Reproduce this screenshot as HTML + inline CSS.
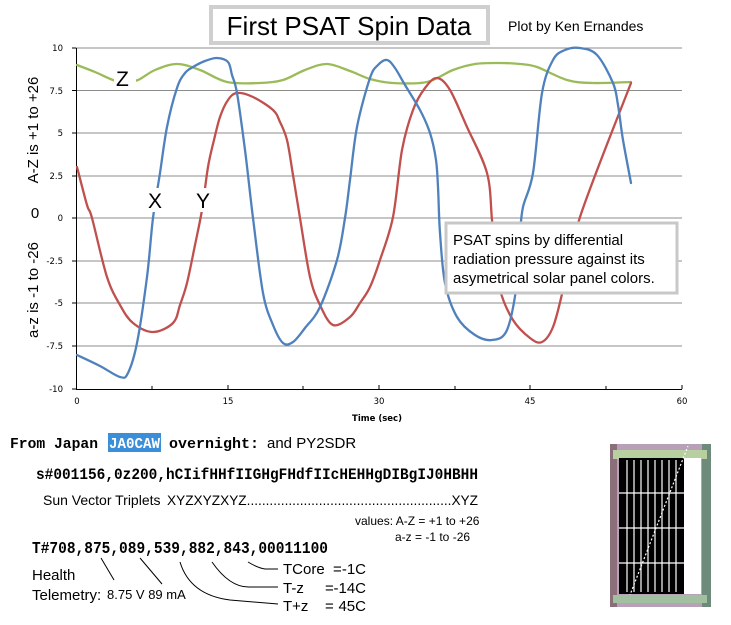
<!DOCTYPE html>
<html><head><meta charset="utf-8"><style>
html,body{margin:0;padding:0;background:#fff;}
svg{display:block;}
</style></head><body>
<svg id="s" width="731" height="625" viewBox="0 0 731 625" xmlns="http://www.w3.org/2000/svg" font-family="Liberation Sans, Arial, sans-serif">
<rect width="731" height="625" fill="#fff"/>
<g stroke="#8c8c8c" stroke-width="1">
<line x1="76" y1="48" x2="682" y2="48"/>
<line x1="76" y1="90.5" x2="682" y2="90.5"/>
<line x1="76" y1="133" x2="682" y2="133"/>
<line x1="76" y1="176" x2="682" y2="176"/>
<line x1="76" y1="218" x2="682" y2="218"/>
<line x1="76" y1="261" x2="682" y2="261"/>
<line x1="76" y1="303" x2="682" y2="303"/>
<line x1="76" y1="346" x2="682" y2="346"/>
</g>
<g stroke="#000" stroke-width="1">
<line x1="76.5" y1="48" x2="76.5" y2="389"/>
<line x1="76" y1="389.5" x2="682" y2="389.5"/>
<line x1="72" y1="48" x2="76" y2="48"/><line x1="72" y1="90.5" x2="76" y2="90.5"/><line x1="72" y1="133" x2="76" y2="133"/><line x1="72" y1="176" x2="76" y2="176"/><line x1="72" y1="218" x2="76" y2="218"/><line x1="72" y1="261" x2="76" y2="261"/><line x1="72" y1="303" x2="76" y2="303"/><line x1="72" y1="346" x2="76" y2="346"/><line x1="72" y1="389" x2="76" y2="389"/>
<line x1="152" y1="389" x2="152" y2="386"/><line x1="228" y1="389" x2="228" y2="385"/><line x1="303" y1="389" x2="303" y2="386"/><line x1="379" y1="389" x2="379" y2="385"/><line x1="455" y1="389" x2="455" y2="386"/><line x1="530" y1="389" x2="530" y2="385"/><line x1="606" y1="389" x2="606" y2="386"/><line x1="682" y1="389" x2="682" y2="385"/>
</g>
<g font-family="DejaVu Sans, sans-serif" font-size="8.5" text-anchor="end" fill="#000">
<text x="63" y="51">10</text><text x="63" y="94">7.5</text><text x="63" y="136">5</text><text x="63" y="179">2.5</text><text x="63" y="221">0</text><text x="63" y="264">-2.5</text><text x="63" y="306">-5</text><text x="63" y="349">-7.5</text><text x="63" y="392">-10</text>
</g>
<g font-family="DejaVu Sans, sans-serif" font-size="8.5" text-anchor="middle" fill="#000">
<text x="77" y="404">0</text><text x="228" y="404">15</text><text x="379" y="404">30</text><text x="530" y="404">45</text><text x="682" y="404">60</text>
<text x="377" y="421" font-weight="bold">Time (sec)</text>
</g>
<text transform="translate(38,130) rotate(-90)" font-size="15" text-anchor="middle">A-Z is +1 to +26</text>
<text x="35" y="218" font-size="15" text-anchor="middle">0</text>
<text transform="translate(38,290) rotate(-90)" font-size="15" text-anchor="middle">a-z is -1 to -26</text>
<g fill="none" stroke-width="2.3" stroke-linejoin="round" stroke-linecap="round">
<polyline class="sm" stroke="#9bbb59" points="77,65 95,72 113,80 125,82 138,80 155,70 177,64 200,70 227,82 260,83 283,80 305,70 327,64 350,71 370,79 393,83 427,82 453,70 475,64 500,63 520,64 537,67 567,80 593,83 631,82"/>
<polyline class="sm" stroke="#c0504d" points="77,167 87,205 92,218 107,277 120,305 133,323 153,332 173,323 180,305 187,283 195,245 202,210 208,167 214,140 220,117 228,100 237,93 253,97 273,110 280,122 287,140 293,175 300,218 310,277 320,305 333,325 350,317 360,303 370,287 380,260 393,217 402,150 413,110 425,88 437,78 450,90 467,127 487,173 492,220 496,260 500,290 513,320 530,338 542,342 553,327 563,290 580,217 631,83"/>
<polyline class="sm" stroke="#4f81bd" points="77,355 100,366 120,377 128,373 137,343 147,277 153,218 160,173 167,127 177,88 185,73 193,67 205,61 217,58 228,62 232,75 237,93 245,150 253,218 263,293 273,325 283,343 293,342 305,328 320,307 337,260 345,218 350,180 357,127 370,78 378,65 387,60 395,68 405,85 420,110 430,133 436,160 438,187 440,233 445,283 457,317 475,335 492,340 507,330 517,283 520,235 523,207 533,173 542,93 553,60 565,50 580,48 597,55 613,83 618,105 623,140 631,183"/>
</g>
<rect x="114" y="66" width="22" height="24" fill="#fff"/>
<text x="116" y="86" font-size="21">Z</text>
<rect x="146" y="188" width="18" height="24" fill="#fff"/>
<text x="148" y="208" font-size="21">X</text>
<rect x="194" y="188" width="18" height="24" fill="#fff"/>
<text x="196" y="208" font-size="21">Y</text>
<rect x="211" y="7" width="277" height="36" fill="#fff" stroke="#cfcfcf" stroke-width="4"/>
<text x="349" y="35" font-size="26" text-anchor="middle">First PSAT Spin Data</text>
<text x="508" y="31" font-size="14">Plot by Ken Ernandes</text>
<rect x="446" y="223" width="231" height="70" fill="#fff" stroke="#c8c8c8" stroke-width="3"/>
<text font-size="15"><tspan x="453" y="245">PSAT spins by differential</tspan><tspan x="453" y="264">radiation pressure against its</tspan><tspan x="453" y="283">asymetrical solar panel colors.</tspan></text>
<rect x="108" y="433" width="53" height="19" fill="#3b8fd8"/>
<g font-family="Liberation Mono, Courier New, monospace" font-weight="bold">
<text x="10" y="448" font-size="15" textLength="88" lengthAdjust="spacingAndGlyphs">From Japan</text>
<text x="109" y="448" font-size="15" fill="#fff" textLength="51" lengthAdjust="spacingAndGlyphs">JA0CAW</text>
<text x="169" y="448" font-size="15" textLength="90" lengthAdjust="spacingAndGlyphs">overnight:</text>
<text x="36" y="479" font-size="16" textLength="442" lengthAdjust="spacingAndGlyphs">s#001156,0z200,hCIifHHfIIGHgFHdfIIcHEHHgDIBgIJ0HBHH</text>
<text x="32" y="553" font-size="17" textLength="296" lengthAdjust="spacingAndGlyphs">T#708,875,089,539,882,843,00011100</text>
</g>
<text x="267" y="448" font-size="15">and PY2SDR</text>
<text x="43" y="505" font-size="14">Sun Vector Triplets</text>
<text x="167" y="505" font-size="14" textLength="311" lengthAdjust="spacingAndGlyphs">XYZXYZXYZ......................................................XYZ</text>
<text x="355" y="525" font-size="12">values: A-Z = +1 to +26</text>
<text x="395" y="541" font-size="12">a-z  = -1  to -26</text>
<text x="32" y="580" font-size="15">Health</text>
<text x="32" y="600" font-size="15">Telemetry:</text>
<text x="107" y="599" font-size="13">8.75 V  89 mA</text>
<g font-size="15">
<text x="283" y="574">TCore</text><text x="333" y="574">=</text><text x="366" y="574" text-anchor="end">-1C</text>
<text x="283" y="593">T-z</text><text x="325" y="593">=</text><text x="366" y="593" text-anchor="end">-14C</text>
<text x="283" y="611">T+z</text><text x="325" y="611">=</text><text x="366" y="611" text-anchor="end">45C</text>
</g>
<g fill="none" stroke="#000" stroke-width="1">
<path d="M101,558 L114,580"/>
<path d="M140,558 L162,584"/>
<path d="M180,562 Q190,595 230,600 L278,604"/>
<path d="M212,562 Q230,588 250,587 L278,587"/>
<path d="M248,562 Q258,568 265,569 L278,569"/>
</g>
<g>
<rect x="611" y="444" width="96" height="163" fill="#b8a0b8"/>
<rect x="610" y="444" width="7" height="163" fill="#8a6e7a"/>
<rect x="702" y="444" width="9" height="163" fill="#6e8a7a"/>
<rect x="613" y="450" width="94" height="9" fill="#b8d0a0"/>
<rect x="619" y="458" width="65" height="136" fill="#000"/>
<rect x="684" y="458" width="17" height="136" fill="#fff"/>
<g stroke="#fff" stroke-width="1.2">
<line x1="619" y1="493" x2="684" y2="493"/><line x1="619" y1="528" x2="684" y2="528"/><line x1="619" y1="563" x2="684" y2="563"/>
<line x1="627" y1="460" x2="627" y2="592"/><line x1="634" y1="460" x2="634" y2="592"/><line x1="641" y1="460" x2="641" y2="592"/><line x1="648" y1="460" x2="648" y2="592"/><line x1="655" y1="460" x2="655" y2="592"/><line x1="662" y1="460" x2="662" y2="592"/><line x1="669" y1="460" x2="669" y2="592"/><line x1="676" y1="460" x2="676" y2="592"/>
<line x1="628" y1="600" x2="688" y2="446" stroke-dasharray="2,2"/>
</g>
<rect x="613" y="595" width="94" height="8" fill="#a0c0a0"/>
</g>
</svg>
<script>
document.querySelectorAll('polyline.sm').forEach(function(pl){
  var p=pl.getAttribute('points').trim().split(/\s+/).map(function(s){return s.split(',').map(Number);});
  var d='M'+p[0][0]+','+p[0][1];
  for(var i=0;i<p.length-1;i++){
    var p0=p[i-1]||p[i],p1=p[i],p2=p[i+1],p3=p[i+2]||p2;
    var c1x=p1[0]+(p2[0]-p0[0])/6,c1y=p1[1]+(p2[1]-p0[1])/6;
    var c2x=p2[0]-(p3[0]-p1[0])/6,c2y=p2[1]-(p3[1]-p1[1])/6;
    d+=' C'+c1x.toFixed(1)+','+c1y.toFixed(1)+' '+c2x.toFixed(1)+','+c2y.toFixed(1)+' '+p2[0]+','+p2[1];
  }
  var path=document.createElementNS('http://www.w3.org/2000/svg','path');
  path.setAttribute('d',d);path.setAttribute('stroke',pl.getAttribute('stroke'));
  pl.parentNode.replaceChild(path,pl);
});
</script>
</body></html>
